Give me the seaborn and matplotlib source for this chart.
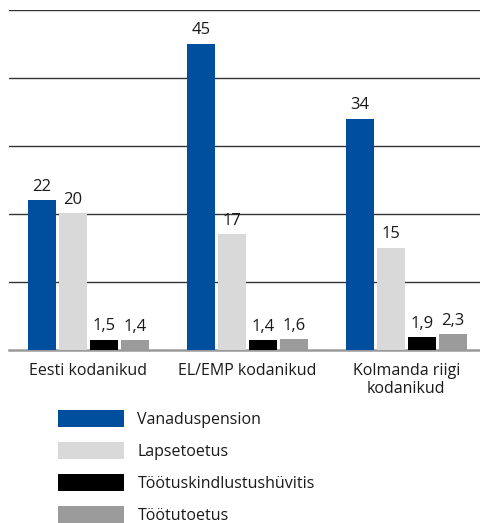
import pandas as pd
import matplotlib.pyplot as plt
import seaborn as sns
from matplotlib.patches import Patch

# Data
groups = ['Eesti kodanikud', 'EL/EMP kodanikud', 'Kolmanda riigi\nkodanikud']
series = ['Vanaduspension', 'Lapsetoetus', 'Töötuskindlustushüvitis', 'Töötutoetus']
vanaduspension = [22, 45, 34]
lapsetoetus = [20, 17, 15]
tootuskindlustus = [1.5, 1.4, 1.9]
tootutoetus = [1.4, 1.6, 2.3]
colors = ['#004f9f', '#d9d9d9', '#000000', '#9b9b9b']

rows = []
for name, vals in zip(series, [vanaduspension, lapsetoetus, tootuskindlustus, tootutoetus]):
    for g, v in zip(groups, vals):
        rows.append({'group': g, 'series': name, 'value': v})
df = pd.DataFrame(rows)

sns.set_style('white')
plt.rcParams['font.family'] = ['Open Sans', 'DejaVu Sans']

fig = plt.figure(figsize=(4.81, 5.23), dpi=100)
ax = fig.add_axes([9 / 481, 1 - 350 / 523, 1 - 9 / 481, 340 / 523])

sns.barplot(data=df, x='group', y='value', hue='series', palette=colors,
            saturation=1, linewidth=0, width=0.78, gap=0.08, ax=ax,
            legend=False, zorder=3)

ax.set_ylim(0, 50)
ax.set_xlim(-0.5, 2.47)
ax.set_yticks([10, 20, 30, 40, 50])
ax.yaxis.grid(True, color='#333333', linewidth=1.0, zorder=0)
ax.set_axisbelow(True)
ax.tick_params(axis='y', left=False, labelleft=False)
ax.tick_params(axis='x', bottom=False, labelsize=11.5, pad=6, colors='#1a1a1a')
for lbl in ax.get_xticklabels():
    lbl.set_linespacing(1.15)
for s in ['top', 'right', 'left']:
    ax.spines[s].set_visible(False)
ax.spines['bottom'].set_color('#999999')
ax.spines['bottom'].set_linewidth(1.8)
ax.set_xlabel('')
ax.set_ylabel('')

for cont in ax.containers:
    ax.bar_label(cont, labels=[f'{v:g}'.replace('.', ',') for v in cont.datavalues],
                 padding=4, fontsize=12, color='#1a1a1a')

handles = [Patch(facecolor=c, edgecolor='none', label=s) for c, s in zip(colors, series)]
fig.legend(handles=handles, loc='upper left', bbox_to_anchor=(44 / 481, 1 - 396 / 523),
           frameon=False, fontsize=11.5, handlelength=4.1, handleheight=1.25,
           labelspacing=0.88, handletextpad=0.85, labelcolor='#1a1a1a')

plt.savefig('out.png', dpi=100)
